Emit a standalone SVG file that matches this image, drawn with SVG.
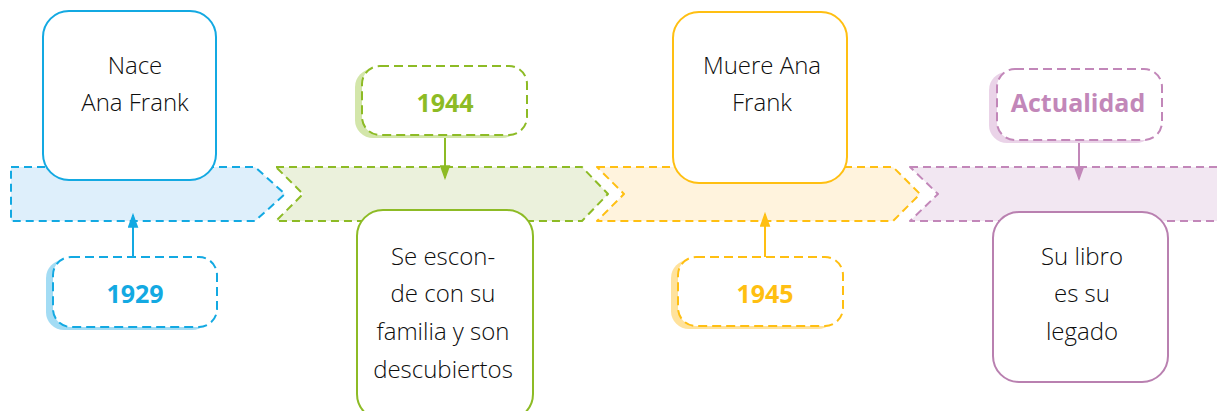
<svg xmlns="http://www.w3.org/2000/svg" width="1217" height="411" viewBox="0 0 1217 411">
  <style>
    .band{stroke-width:2;stroke-dasharray:8 5;stroke-linejoin:round}
    .box{fill:#ffffff;stroke-width:2}
    .lbl{fill:#ffffff;stroke-width:2;stroke-dasharray:9 5}
    .txt{font-family:"Open Sans","Noto Sans","Liberation Sans",sans-serif;font-size:24px;font-weight:300;fill:#0d0d0d;text-anchor:middle}
    .yr{font-family:"Open Sans","Noto Sans","Liberation Sans",sans-serif;font-size:25px;font-weight:700;text-anchor:middle}
    .con{stroke-width:2;fill:none}
  </style>
  <defs>
    <marker id="mb" viewBox="0 0 14 10" refX="12" refY="5" markerWidth="15" markerHeight="11" markerUnits="userSpaceOnUse" orient="auto"><path d="M0,0 L14,5 L0,10 Z" fill="#13A9E2"/></marker>
    <marker id="mg" viewBox="0 0 14 10" refX="12" refY="5" markerWidth="15" markerHeight="11" markerUnits="userSpaceOnUse" orient="auto"><path d="M0,0 L14,5 L0,10 Z" fill="#8DBB25"/></marker>
    <marker id="my" viewBox="0 0 14 10" refX="12" refY="5" markerWidth="15" markerHeight="11" markerUnits="userSpaceOnUse" orient="auto"><path d="M0,0 L14,5 L0,10 Z" fill="#FFBF12"/></marker>
    <marker id="mp" viewBox="0 0 14 10" refX="12" refY="5" markerWidth="15" markerHeight="11" markerUnits="userSpaceOnUse" orient="auto"><path d="M0,0 L14,5 L0,10 Z" fill="#C287B9"/></marker>
  </defs>
  <rect width="1217" height="411" fill="#ffffff"/>

  <g id="timeline">
    <path class="band" d="M11,167 H255 L285,194 L255,221 H11 Z" fill="#DEEFFB" stroke="#13A9E2"/>
    <path class="band" d="M276,167 H582 L608,194 L582,221 H276 L303,194 Z" fill="#EBF1DC" stroke="#8DBB25"/>
    <path class="band" d="M597,167 H893 L920,194 L893,221 H597 L624,194 Z" fill="#FFF3DD" stroke="#FFBF12"/>
    <path class="band" d="M910,167 H1230 V221 H910 L938,194 Z" fill="#F2E7F2" stroke="#C287B9"/>
  </g>

  <g id="connectors">
    <line class="con" x1="133" y1="257" x2="133" y2="215" stroke="#13A9E2" marker-end="url(#mb)"/>
    <line class="con" x1="445" y1="135" x2="445" y2="178" stroke="#8DBB25" marker-end="url(#mg)"/>
    <line class="con" x1="765" y1="257" x2="765" y2="214" stroke="#FFBF12" marker-end="url(#my)"/>
    <line class="con" x1="1079" y1="140" x2="1079" y2="179" stroke="#C287B9" marker-end="url(#mp)"/>
  </g>

  <g id="node-nace">
    <rect class="box" x="43" y="11" width="173" height="169" rx="26" stroke="#13A9E2"/>
    <text class="txt" x="135" y="74">Nace</text>
    <text class="txt" x="135" y="111">Ana Frank</text>
  </g>

  <g id="node-1929">
    <rect x="46" y="260" width="164" height="70" rx="18" fill="#A3DCF4"/>
    <rect class="lbl" x="53" y="257" width="164" height="70" rx="18" stroke="#13A9E2"/>
    <text class="yr" x="135" y="303" fill="#13A9E2">1929</text>
  </g>

  <g id="node-1944">
    <rect x="355" y="69" width="165" height="69" rx="18" fill="#D3E6AA"/>
    <rect class="lbl" x="362" y="66" width="165" height="69" rx="18" stroke="#8DBB25"/>
    <text class="yr" x="445" y="112" fill="#8DBB25">1944</text>
  </g>

  <g id="node-esconde">
    <rect class="box" x="357" y="210" width="176" height="210" rx="26" stroke="#8DBB25"/>
    <text class="txt" x="443" y="265">Se escon-</text>
    <text class="txt" x="443" y="302">de con su</text>
    <text class="txt" x="443" y="340">familia y son</text>
    <text class="txt" x="443" y="378">descubiertos</text>
  </g>

  <g id="node-muere">
    <rect class="box" x="673" y="12" width="174" height="171" rx="26" stroke="#FFBF12"/>
    <text class="txt" x="762" y="74">Muere Ana</text>
    <text class="txt" x="762" y="111">Frank</text>
  </g>

  <g id="node-1945">
    <rect x="671" y="260" width="165" height="69" rx="18" fill="#FFE29C"/>
    <rect class="lbl" x="678" y="257" width="165" height="69" rx="18" stroke="#FFBF12"/>
    <text class="yr" x="765" y="303" fill="#FFBF12">1945</text>
  </g>

  <g id="node-actualidad">
    <rect x="989" y="72" width="165" height="71" rx="18" fill="#EAD3E8"/>
    <rect class="lbl" x="997" y="69" width="165" height="71" rx="18" stroke="#C287B9"/>
    <text class="yr" x="1078" y="112" fill="#C287B9">Actualidad</text>
  </g>

  <g id="node-legado">
    <rect class="box" x="993" y="212" width="175" height="170" rx="26" stroke="#B980B0"/>
    <text class="txt" x="1082" y="265">Su libro</text>
    <text class="txt" x="1082" y="302">es su</text>
    <text class="txt" x="1082" y="340">legado</text>
  </g>
</svg>
